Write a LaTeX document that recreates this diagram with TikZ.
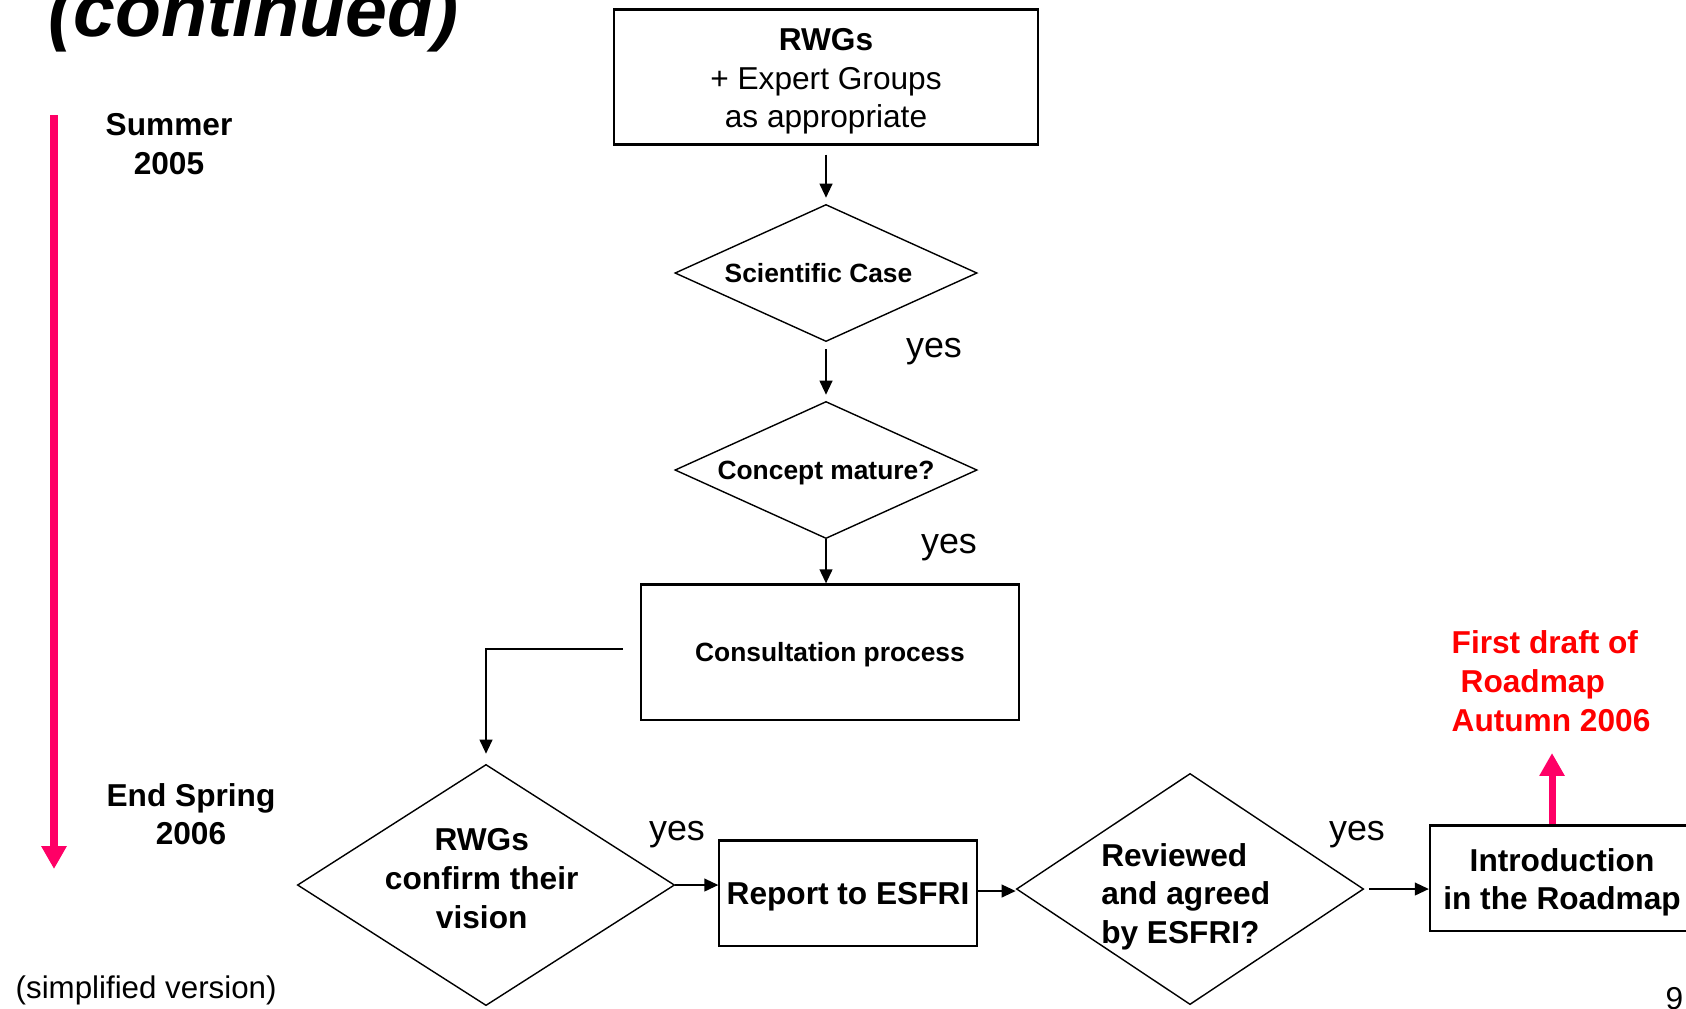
\documentclass[tikz,border=0pt]{standalone}
\usepackage{fontspec}
\setmainfont{Liberation Sans}
\usetikzlibrary{shapes.geometric,arrows.meta}

\definecolor{timepink}{RGB}{255,0,102}

\tikzset{
    box/.style={draw, rectangle, line width=0.6pt, inner sep=0pt, align=center},
    choice/.style={draw, diamond, line width=0.4pt, inner sep=0pt, align=center},
    flow/.style={-{Triangle[length=4pt,width=3.6pt]}, line width=0.6pt},
    pinkflow/.style={-{Triangle[length=6.5pt,width=6.8pt]}, line width=2pt, timepink},
    bigtext/.style={font=\fontsize{9}{11}\selectfont\bfseries},
    smalltext/.style={font=\fontsize{7.5}{9}\selectfont\bfseries, text depth=0pt},
    yestext/.style={font=\fontsize{10.2}{12}\selectfont, inner sep=0pt},
    intext/.style={inner sep=0pt, align=center, font=\fontsize{9}{11}\selectfont\bfseries},
}

\begin{document}
\begin{tikzpicture}[x=0.01cm, y=-0.01cm]
    \useasboundingbox (0,0) rectangle (1686,1008);
    \clip (0,0) rectangle (1686,1008);

    % title and time axis
    \node[font=\fontsize{21.4}{25}\selectfont\bfseries\itshape,
        inner sep=0pt,
        anchor=base west] (title) at (48,36) {(continued)};

    \coordinate (tstart) at (54,115);
    \coordinate (tend) at (54,869);
    \draw[pinkflow] (tstart) -- (tend);

    \node[bigtext, align=center, inner sep=0pt] (summer) at (169,144) {Summer\\2005};
    \node[bigtext, align=center, inner sep=0pt] (spring) at (191,814) {End Spring\\2006};

    % flow chart
    \node[box,
        minimum width=4.24cm,
        minimum height=1.35cm,
        label={[intext, name=rwgstext, yshift=-0.043cm]center:{RWGs\\\mdseries + Expert Groups\\\mdseries as appropriate}}] (rwgs) at (826,77) {};

    \node[choice, smalltext,
        aspect=2.2,
        minimum width=3.02cm,
        minimum height=1.37cm] (sci) at (826,273) {Scientific Case\hspace*{0.15cm}};

    \node[choice, smalltext,
        aspect=2.2,
        minimum width=3.02cm,
        minimum height=1.37cm] (concept) at (826,470) {Concept mature?};

    \node[box, smalltext,
        minimum width=3.78cm,
        minimum height=1.35cm] (consult) at (830,652) {Consultation process};

    \node[choice,
        minimum width=3.77cm,
        minimum height=2.41cm,
        label={[intext, name=confirmtext, xshift=-0.043cm, yshift=0.065cm]center:{RWGs\\confirm their\\vision}}] (confirm) at (486,885) {};

    \node[box, bigtext, text depth=0pt,
        minimum width=2.57cm,
        minimum height=1.05cm] (report) at (848,893) {Report to ESFRI};

    \node[choice,
        minimum width=3.47cm,
        minimum height=2.31cm,
        label={[intext, align=left, name=reviewedtext, xshift=-0.043cm, yshift=-0.075cm]center:{Reviewed\\and agreed\\by ESFRI?}}] (reviewed) at (1190,889) {};

    \node[box,
        minimum width=2.64cm,
        minimum height=1.05cm,
        label={[intext, name=introtext, yshift=-0.043cm]center:{Introduction\\in the Roadmap}}] (intro) at (1562,878) {};

    \node[bigtext, text=red,
        align=left,
        inner sep=0pt] (draft) at (1551,681) {First draft of\\\hspace*{0.09cm}Roadmap\\Autumn 2006};

    % yes labels
    \node[yestext] (yes1) at (934,352) {yes};
    \node[yestext] (yes2) at (949,548) {yes};
    \node[yestext] (yes3) at (677,835) {yes};
    \node[yestext] (yes4) at (1357,835) {yes};

    % connectors
    \draw[flow, shorten <=0.09cm, shorten >=0.06cm] (rwgs.south) -- (sci.north);
    \draw[flow, shorten <=0.07cm, shorten >=0.06cm] (sci.south) -- (concept.north);
    \draw[flow] (concept.south) -- (concept.south |- consult.north);
    \draw[flow] ([xshift=-0.17cm, yshift=0.03cm]consult.west) -| ([yshift=0.1cm]confirm.north);
    \draw[flow] (confirm.east) -- (confirm.east -| report.west);
    \draw[flow] ([yshift=0.02cm]report.east) -- ([yshift=0.02cm]report.east -| reviewed.west);
    \draw[flow, shorten <=0.05cm] (reviewed.east) -- (reviewed.east -| intro.west);

    \coordinate (drafttip) at (1552,753);
    \draw[pinkflow] (intro.north -| drafttip) -- (drafttip);

    % footer
    \node[font=\fontsize{8.9}{11}\selectfont,
        inner sep=0pt,
        anchor=west] (simple) at (15,990) {(simplified version)};
    \node[font=\fontsize{9}{11}\selectfont,
        inner sep=0pt,
        anchor=north west] (page) at (1665,987) {9};

\end{tikzpicture}
\end{document}
